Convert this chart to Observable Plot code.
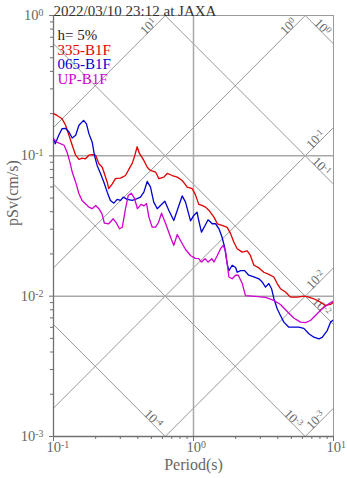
<!DOCTYPE html>
<html><head><meta charset="utf-8">
<script src="https://cdn.jsdelivr.net/npm/d3@7"></script>
<script src="https://cdn.jsdelivr.net/npm/@observablehq/plot@0.6"></script>
<style>
body{margin:0;background:#fff;}
#chart svg{display:block;}
</style>
</head><body><div id="chart"></div>
<script>
const titleText = "2022/03/10 23:12 at JAXA";
const xLabel = "Period(s)";
const yLabel = "pSv(cm/s)";
const legendLabels = ["h= 5%", "335-B1F", "065-B1F", "UP-B1F"];
const legendColors = ["#222222", "#e00000", "#0000d0", "#d000d0"];
const seriesNames = ["335-B1F", "065-B1F", "UP-B1F"];
const seriesColors = ["#e00000", "#0000d0", "#d000d0"];

// [period (s), pSv (cm/s)]
const s335 = [[0.1,0.200],[0.106,0.194],[0.115,0.184],[0.122,0.165],[0.129,0.140],[0.136,0.119],[0.144,0.101],[0.152,0.0942],[0.160,0.0964],[0.169,0.0953],[0.179,0.101],[0.189,0.102],[0.200,0.101],[0.211,0.0879],[0.223,0.0829],[0.229,0.0766],[0.242,0.0649],[0.248,0.0583],[0.263,0.0632],[0.277,0.0687],[0.301,0.0693],[0.327,0.0724],[0.345,0.0800],[0.365,0.0883],[0.379,0.0990],[0.396,0.116],[0.411,0.104],[0.442,0.0927],[0.467,0.0829],[0.493,0.0787],[0.536,0.0766],[0.566,0.0687],[0.614,0.0705],[0.649,0.0749],[0.705,0.0724],[0.765,0.0705],[0.830,0.0668],[0.902,0.0598],[0.979,0.0583],[1.03,0.0531],[1.09,0.0451],[1.15,0.0443],[1.22,0.0431],[1.29,0.0408],[1.40,0.0366],[1.48,0.0328],[1.60,0.0319],[1.74,0.0309],[1.84,0.0279],[1.94,0.0243],[2.05,0.0218],[2.23,0.0206],[2.42,0.0210],[2.55,0.0195],[2.70,0.0166],[2.93,0.0159],[3.18,0.0148],[3.45,0.0143],[3.75,0.0137],[3.96,0.0123],[4.18,0.0113],[4.54,0.0107],[4.93,0.00984],[5.51,0.00984],[6.14,0.0100],[6.67,0.00984],[7.24,0.00958],[8.08,0.00906],[8.77,0.00859],[9.52,0.00873],[10,0.00906]];
const s065 = [[0.1,0.132],[0.103,0.122],[0.109,0.140],[0.115,0.156],[0.122,0.157],[0.129,0.148],[0.136,0.134],[0.144,0.140],[0.152,0.165],[0.164,0.179],[0.172,0.169],[0.179,0.144],[0.189,0.125],[0.196,0.101],[0.205,0.0854],[0.217,0.0745],[0.229,0.0649],[0.242,0.0551],[0.255,0.0481],[0.270,0.0460],[0.285,0.0489],[0.301,0.0481],[0.315,0.0508],[0.336,0.0489],[0.365,0.0481],[0.392,0.0494],[0.418,0.0508],[0.442,0.0551],[0.467,0.0657],[0.493,0.0598],[0.520,0.0468],[0.551,0.0420],[0.581,0.0443],[0.624,0.0475],[0.667,0.0408],[0.723,0.0346],[0.765,0.0408],[0.830,0.0518],[0.877,0.0468],[0.952,0.0344],[1.005,0.0376],[1.06,0.0397],[1.09,0.0346],[1.14,0.0286],[1.21,0.0319],[1.27,0.0350],[1.36,0.0328],[1.44,0.0328],[1.52,0.0302],[1.60,0.0263],[1.67,0.0223],[1.74,0.0170],[1.79,0.0152],[1.89,0.0166],[2.00,0.0160],[2.05,0.0148],[2.17,0.0152],[2.32,0.0152],[2.48,0.0141],[2.70,0.0137],[2.93,0.0133],[3.10,0.0126],[3.27,0.0116],[3.45,0.0123],[3.61,0.0113],[3.75,0.00963],[3.96,0.00813],[4.18,0.00729],[4.42,0.00653],[4.80,0.00601],[5.20,0.00601],[5.65,0.00601],[6.14,0.00589],[6.67,0.00540],[7.24,0.00510],[7.86,0.00497],[8.30,0.00508],[9.02,0.00569],[9.52,0.00653],[10,0.00677]];
const sUP = [[0.1,0.132],[0.106,0.125],[0.112,0.122],[0.119,0.119],[0.125,0.106],[0.131,0.0902],[0.136,0.0766],[0.144,0.0649],[0.152,0.0537],[0.160,0.0481],[0.169,0.0456],[0.179,0.0431],[0.189,0.0420],[0.200,0.0443],[0.211,0.0420],[0.222,0.0386],[0.231,0.0331],[0.248,0.0328],[0.267,0.0356],[0.282,0.0331],[0.296,0.0302],[0.310,0.0310],[0.327,0.0420],[0.342,0.0522],[0.359,0.0542],[0.379,0.0497],[0.398,0.0420],[0.422,0.0451],[0.443,0.0440],[0.462,0.0458],[0.480,0.0366],[0.507,0.0310],[0.536,0.0310],[0.562,0.0335],[0.591,0.0390],[0.631,0.0331],[0.686,0.0263],[0.723,0.0230],[0.765,0.0275],[0.807,0.0249],[0.877,0.0215],[0.952,0.0195],[1.03,0.0186],[1.09,0.0185],[1.14,0.0175],[1.21,0.0185],[1.27,0.0175],[1.35,0.0185],[1.40,0.0175],[1.48,0.0195],[1.56,0.0218],[1.63,0.0230],[1.69,0.0212],[1.79,0.0137],[1.89,0.0133],[2.00,0.0141],[2.09,0.0141],[2.23,0.0123],[2.35,0.0101],[2.77,0.00995],[3.27,0.00979],[3.75,0.00932],[4.18,0.00873],[4.67,0.00778],[5.20,0.00699],[5.81,0.00653],[6.31,0.00647],[6.85,0.00671],[7.43,0.00729],[8.30,0.00813],[9.25,0.00883],[10,0.00924]];

// tripartite guide lines
const accelValues = [10, 1, 0.1, 0.01, 0.001];   // cm/s^2
const dispValues = [1, 0.1, 0.01, 0.001, 0.0001]; // cm
const xDomain = [0.1, 10];
const yDomain = [0.001, 1];
const xTicks = [0.1, 1, 10];
const yTicks = [1, 0.1, 0.01, 0.001];
const xGrid = [1];
const yGrid = [0.1, 0.01];

const TWO_PI = 2 * Math.PI;
const fmt = v => "10^" + Math.round(Math.log10(v));

const spectra = [s335, s065, sUP].flatMap((arr, i) =>
  arr.map(([T, Sv]) => ({T, Sv, name: seriesNames[i]})));

const diag = [];
accelValues.forEach(A => xDomain.forEach(T => diag.push({T, Sv: A * T / TWO_PI, k: "a" + A})));
dispValues.forEach(D => xDomain.forEach(T => diag.push({T, Sv: TWO_PI * D / T, k: "d" + D})));

const back = 0.055;
const accelLabels = accelValues.map(A => {
  let T = xDomain[1], Sv = A * T / TWO_PI;
  if (Sv > yDomain[1]) { Sv = yDomain[1]; T = TWO_PI * Sv / A; }
  return {T: T * 10 ** -back, Sv: Sv * 10 ** -back, label: fmt(A)};
});
const dispLabels = dispValues.map(D => {
  let T = xDomain[1], Sv = TWO_PI * D / T;
  if (Sv < yDomain[0]) { Sv = yDomain[0]; T = TWO_PI * D / Sv; }
  return {T: T * 10 ** -back, Sv: Sv * 10 ** back, label: fmt(D)};
});

const minorX = [];
[0.1, 1].forEach(b => { for (let m = 2; m <= 9; m++) minorX.push(b * m); });
const minorY = [];
[0.001, 0.01, 0.1].forEach(b => { for (let m = 2; m <= 9; m++) minorY.push(b * m); });

const chart = Plot.plot({
  width: 347, height: 478,
  marginLeft: 53, marginRight: 14, marginTop: 15, marginBottom: 42,
  x: {type: "log", domain: xDomain, axis: null},
  y: {type: "log", domain: yDomain, axis: null},
  color: {domain: seriesNames, range: seriesColors},
  style: {fontFamily: "'Liberation Serif', 'Times New Roman', serif", background: "#fff"},
  marks: [
    Plot.line(diag, {x: "T", y: "Sv", z: "k", stroke: "#8c8c8c", strokeWidth: 0.9, clip: true}),
    Plot.ruleX(xGrid, {stroke: "#a8a8a8", strokeWidth: 1.5}),
    Plot.ruleY(yGrid, {stroke: "#a8a8a8", strokeWidth: 1.5}),
    Plot.frame({stroke: "#9a9a9a"}),
    Plot.ruleX([xDomain[0]], {stroke: "#707070", strokeWidth: 1.3}),
    Plot.ruleY([yDomain[0]], {stroke: "#707070", strokeWidth: 1.3}),
    Plot.axisX(minorX, {tickSize: 3, tickFormat: () => "", stroke: "#707070", label: null}),
    Plot.axisX(xTicks, {tickSize: 5, tickFormat: () => "", stroke: "#707070", label: null}),
    Plot.axisY(minorY, {tickSize: 3, tickFormat: () => "", stroke: "#707070", label: null}),
    Plot.axisY(yTicks, {tickSize: 4, tickFormat: () => "", stroke: "#707070", label: null}),
    Plot.text(accelLabels, {x: "T", y: "Sv", text: "label", rotate: -45, textAnchor: "end", lineAnchor: "bottom", fill: "#6a6a6a", fontSize: 13}),
    Plot.text(dispLabels, {x: "T", y: "Sv", text: "label", rotate: 45, textAnchor: "end", lineAnchor: "bottom", fill: "#6a6a6a", fontSize: 13}),
    Plot.line(spectra, {x: "T", y: "Sv", z: "name", stroke: "name", strokeWidth: 1.3, clip: true}),
    Plot.text(xTicks, {x: d => d, text: fmt, frameAnchor: "bottom", textAnchor: "start", dx: -7, dy: 5, lineAnchor: "top", fill: "#666", fontSize: 14.5}),
    Plot.text(yTicks, {y: d => d, text: fmt, frameAnchor: "left", textAnchor: "end", dx: -10, fill: "#666", fontSize: 14.5}),
    Plot.text([xLabel], {frameAnchor: "bottom", dy: 33, fill: "#666", fontSize: 16}),
    Plot.text([yLabel], {frameAnchor: "left", dx: -41, rotate: -90, fill: "#666", fontSize: 16}),
    Plot.text([titleText], {frameAnchor: "top-left", textAnchor: "start", dy: -10, fill: "#333", fontSize: 15}),
    ...legendLabels.map((lab, i) =>
      Plot.text([lab], {frameAnchor: "top-left", textAnchor: "start", dx: 4, dy: 14 + i * 14.5, fill: legendColors[i], fontSize: 15}))
  ]
});

d3.select(chart).selectAll("text").each(function () {
  const m = /^10\^(-?\d+)$/.exec(this.textContent);
  if (m) {
    const sel = d3.select(this);
    sel.text("10");
    sel.append("tspan").attr("dy", "-0.42em").attr("font-size", "0.68em").text(m[1]);
  }
});

document.getElementById("chart").append(chart);
</script>
</body></html>
